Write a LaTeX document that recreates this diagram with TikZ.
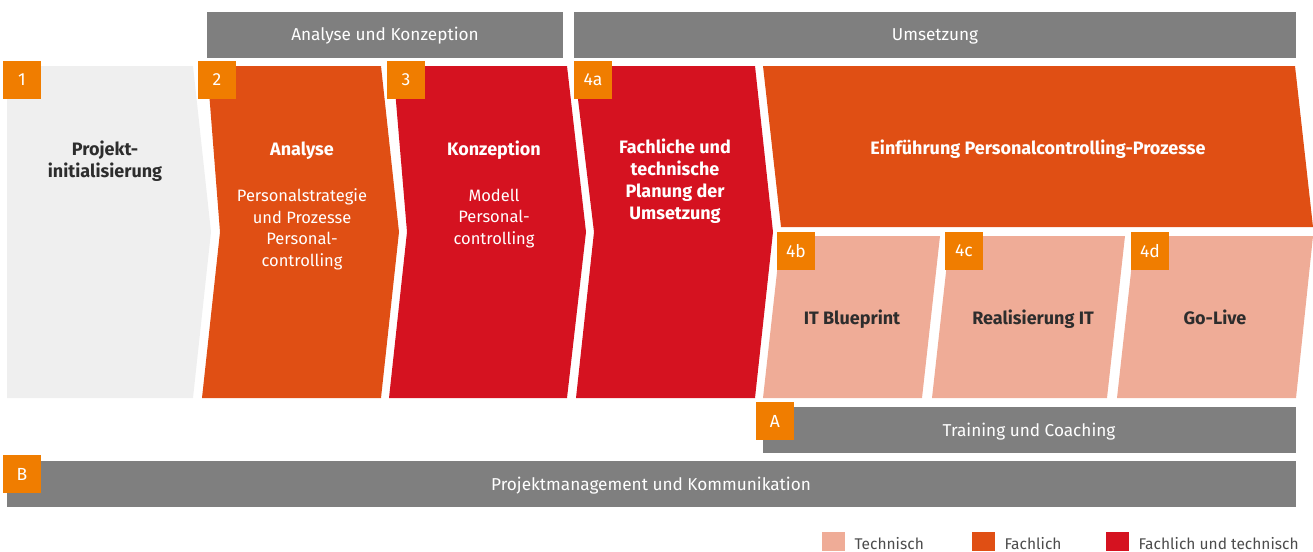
\documentclass[tikz,border=0pt]{standalone}
\usepackage{fontspec}
\setmainfont{Fira Sans}
\usetikzlibrary{positioning}

\definecolor{bargray}{HTML}{7F7F7F}
\definecolor{palegray}{HTML}{EFEFEF}
\definecolor{fachlich}{HTML}{E04F14}
\definecolor{beides}{HTML}{D51220}
\definecolor{technisch}{HTML}{EFAC97}
\definecolor{badgeorange}{HTML}{F07D00}
\definecolor{darktext}{HTML}{2D2D2D}

\begin{document}
\begin{tikzpicture}[x=1pt, y=-1pt,
  bar/.style={fill=bargray},
  badge/.style={fill=badgeorange, text=white, minimum size=38pt, inner sep=0pt,
    font=\fontsize{17.5}{20}\selectfont},
  % mehrzeilige Knoten: base liegt auf der letzten Zeile
  head/.style={anchor=base, align=center, font=\bfseries\fontsize{18}{21.7}\selectfont},
  body/.style={anchor=base, align=center, font=\fontsize{16.5}{21.4}\selectfont},
  bartext/.style={anchor=base, text=white, font=\fontsize{17.2}{20}\selectfont},
  legend/.style={anchor=base west, text=black!70, font=\fontsize{15.5}{18}\selectfont}
]
\useasboundingbox (0,0) rectangle (1313,551);

% Phasenbalken oben
\fill[bar] (207,12) rectangle (563,58);
\fill[bar] (574,12) rectangle (1296,58);
\node at (385,41) (analysebar) [bartext] {Analyse und Konzeption};
\node at (935,41) (umsetzungbar) [bartext] {Umsetzung};

% Pfeile der Phasen
\fill[palegray] (7,66) -- (193,66) -- (211,232) -- (193,398) -- (7,398) -- cycle;
\fill[fachlich] (207,66) -- (381,66) -- (399,232) -- (381,398) -- (202,398) -- (220,232) -- cycle;
\fill[beides] (393,66) -- (567,66) -- (586,232) -- (567,398) -- (389,398) -- (407,232) -- cycle;
\fill[beides] (574,66) -- (755,66) -- (773,232) -- (755,398) -- (576,398) -- (594,232) -- cycle;
\fill[fachlich] (763,66) -- (1295,66) -- (1313,227) -- (781,227) -- cycle;

% Teilschritte der Umsetzung
\fill[technisch] (781,236) -- (940,236) -- (922,398) -- (763,398) -- cycle;
\fill[technisch] (950,236) -- (1125,236) -- (1107,398) -- (932,398) -- cycle;
\fill[technisch] (1135,236) -- (1313,236) -- (1296,398) -- (1117,398) -- cycle;

% Texte
\node at (105,177) (init) [head, text=darktext] {Projekt-\\initialisierung};
\node at (302,155) (analyse) [head, text=white] {Analyse};
\node at (302,266) (analysetxt) [body, text=white] {Personalstrategie\\und Prozesse\\Personal-\\controlling};
\node at (494,155) (konzept) [head, text=white] {Konzeption};
\node at (494,244) (konzepttxt) [body, text=white] {Modell\\Personal-\\controlling};
\node at (675,219) (planung) [head, text=white] {Fachliche und\\technische\\Planung der\\Umsetzung};
\node at (1038,154) (einf) [head, text=white] {Einführung Personalcontrolling-Prozesse};
\node at (852,324) (blueprint) [head, text=darktext] {IT Blueprint};
\node at (1033,324) (real) [head, text=darktext] {Realisierung IT};
\node at (1215,324) (golive) [head, text=darktext] {Go-Live};

% Begleitende Balken
\fill[bar] (763,407) rectangle (1296,453);
\fill[bar] (7,461) rectangle (1296,507);
\node at (1029,436) (training) [bartext] {Training und Coaching};
\node at (651,490) (pm) [bartext] {Projektmanagement und Kommunikation};

% Nummern
\node at (22,80) (b1) [badge] {1};
\node at (217,80) (b2) [badge] {2};
\node at (406,80) (b3) [badge] {3};
\node at (593,80) (b4a) [badge] {4a};
\node at (796,251) (b4b) [badge] {4b};
\node at (964,251) (b4c) [badge] {4c};
\node at (1150,251) (b4d) [badge] {4d};
\node at (775,421) (bA) [badge] {A};
\node at (22,474) (bB) [badge] {B};

% Legende
\fill[technisch] (822,532) rectangle (845,551);
\node at (851,549) (lgtech) [legend] {Technisch};
\fill[fachlich] (972,532) rectangle (995,551);
\node at (1001,549) (lgfach) [legend] {Fachlich};
\fill[beides] (1106,532) rectangle (1129,551);
\node at (1135,549) (lgbeide) [legend] {Fachlich und technisch};
\end{tikzpicture}
\end{document}
